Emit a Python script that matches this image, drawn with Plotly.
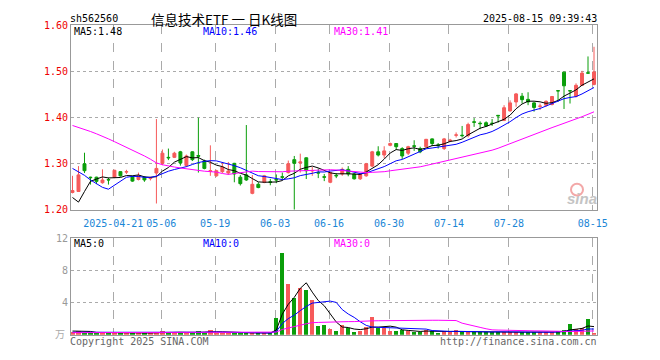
import plotly.graph_objects as go
import pandas as pd

# ---------------- data ----------------
holidays = ["2025-05-01", "2025-05-02", "2025-05-05", "2025-06-02"]
dates = [d.strftime("%Y-%m-%d") for d in pd.bdate_range("2025-04-10", "2025-08-15")
         if d.strftime("%Y-%m-%d") not in holidays]

opens = [1.238, 1.240, 1.300, 1.271, 1.271, 1.259, 1.266, 1.271, 1.283, 1.282,
         1.272, 1.266, 1.271, 1.268, 1.280, 1.301, 1.314, 1.314, 1.326, 1.2965,
         1.326, 1.318, 1.306, 1.284, 1.274, 1.283, 1.280, 1.301, 1.271, 1.276,
         1.236, 1.2556, 1.260, 1.261, 1.266, 1.272, 1.281, 1.309, 1.302, 1.313,
         1.2845, 1.281, 1.272, 1.260, 1.275, 1.278, 1.288, 1.278, 1.2675, 1.274,
         1.295, 1.326, 1.319, 1.340, 1.344, 1.333, 1.323, 1.339, 1.333, 1.337,
         1.354, 1.341, 1.333, 1.350, 1.362, 1.362, 1.361, 1.391, 1.388, 1.389,
         1.388, 1.405, 1.394, 1.4146, 1.434, 1.4465, 1.4396, 1.432, 1.4245, 1.427,
         1.4285, 1.4585, 1.4986, 1.4585, 1.4465, 1.470, 1.497, 1.472]
highs = [1.274, 1.295, 1.324, 1.272, 1.272, 1.288, 1.270, 1.287, 1.284, 1.287,
         1.274, 1.281, 1.273, 1.272, 1.397, 1.331, 1.333, 1.326, 1.328, 1.320,
         1.327, 1.400, 1.309, 1.340, 1.287, 1.304, 1.304, 1.302, 1.2757, 1.384,
         1.2757, 1.260, 1.276, 1.2674, 1.277, 1.281, 1.307, 1.317, 1.322, 1.314,
         1.293, 1.290, 1.278, 1.283, 1.280, 1.292, 1.295, 1.280, 1.280, 1.302,
         1.328, 1.338, 1.338, 1.346, 1.345, 1.336, 1.339, 1.351, 1.337, 1.354,
         1.355, 1.345, 1.356, 1.354, 1.368, 1.382, 1.389, 1.399, 1.392, 1.392,
         1.397, 1.405, 1.427, 1.4375, 1.4535, 1.4535, 1.455, 1.434, 1.4306, 1.4375,
         1.447, 1.4585, 1.4993, 1.4585, 1.4743, 1.5014, 1.5326, 1.5535]
lows = [1.236, 1.239, 1.280, 1.255, 1.256, 1.257, 1.255, 1.269, 1.272, 1.278,
        1.261, 1.264, 1.261, 1.264, 1.214, 1.297, 1.308, 1.3125, 1.296, 1.293,
        1.306, 1.281, 1.288, 1.274, 1.272, 1.280, 1.276, 1.260, 1.253, 1.263,
        1.234, 1.247, 1.258, 1.2535, 1.258, 1.265, 1.279, 1.201, 1.281, 1.267,
        1.274, 1.269, 1.2625, 1.258, 1.269, 1.274, 1.273, 1.266, 1.265, 1.272,
        1.293, 1.316, 1.312, 1.338, 1.330, 1.310, 1.319, 1.328, 1.323, 1.335,
        1.338, 1.333, 1.330, 1.347, 1.357, 1.357, 1.357, 1.380, 1.375, 1.380,
        1.382, 1.389, 1.3925, 1.413, 1.4236, 1.4306, 1.427, 1.413, 1.4167, 1.4236,
        1.4264, 1.434, 1.4188, 1.4306, 1.4438, 1.4688, 1.4958, 1.470]
closes = [1.242, 1.276, 1.285, 1.270, 1.262, 1.265, 1.265, 1.286, 1.274, 1.283,
          1.2625, 1.274, 1.265, 1.269, 1.290, 1.323, 1.313, 1.323, 1.302, 1.317,
          1.309, 1.3165, 1.290, 1.285, 1.285, 1.293, 1.2845, 1.278, 1.257, 1.265,
          1.2556, 1.2486, 1.274, 1.260, 1.265, 1.271, 1.300, 1.301, 1.304, 1.285,
          1.2855, 1.280, 1.271, 1.281, 1.274, 1.288, 1.278, 1.2675, 1.2778, 1.300,
          1.326, 1.319, 1.328, 1.344, 1.337, 1.317, 1.337, 1.338, 1.326, 1.353,
          1.344, 1.340, 1.354, 1.351, 1.3625, 1.361, 1.385, 1.390, 1.387, 1.382,
          1.3875, 1.404, 1.4215, 1.432, 1.4514, 1.439, 1.434, 1.422, 1.425, 1.4354,
          1.4458, 1.458, 1.469, 1.458, 1.470, 1.4965, 1.4965, 1.499]
volumes = [0.30, 0.50, 0.22, 0.18, 0.20, 0.25, 0.18, 0.30, 0.22, 0.20,
           0.25, 0.22, 0.20, 0.18, 0.35, 0.40, 0.25, 0.22, 0.30, 0.28,
           0.25, 0.40, 0.32, 0.60, 0.22, 0.25, 0.20, 0.22, 0.20, 0.25,
           0.22, 0.20, 0.18, 0.20, 2.08, 10.1, 6.3, 4.5, 5.8, 5.5,
           4.3, 1.1, 1.24, 0.72, 0.48, 1.2, 0.8, 0.28, 0.4, 1.0,
           2.2, 0.8, 0.8, 0.48, 0.4, 0.56, 0.4, 0.32, 0.32, 0.64,
           0.4, 0.16, 0.48, 0.32, 0.56, 0.32, 0.35, 0.30, 0.30, 0.30,
           0.30, 0.30, 0.32, 0.32, 0.32, 0.30, 0.30, 0.30, 0.30, 0.30,
           0.30, 0.48, 0.60, 1.28, 0.72, 0.80, 2.00, 0.20]

# moving-average values before a full window is available
ma5_early = [1.227, 1.217, 1.240, 1.262]
ma10_early = [1.290, 1.283, 1.275, 1.265, 1.257, 1.249, 1.245, 1.253, 1.262]
ma30_early = [1.383, 1.379, 1.375, 1.370, 1.365, 1.360, 1.354, 1.348, 1.342, 1.336,
              1.330, 1.324, 1.317, 1.310, 1.302, 1.298, 1.295, 1.293, 1.291, 1.289,
              1.287, 1.286, 1.284, 1.283, 1.282, 1.279, 1.277, 1.279, 1.281]
vma5_early = [0.45, 0.45, 0.42, 0.40]
vma10_early = [0.30] * 9
vma30_early = [0.25] * 29

tick_labels = ["2025-04-21", "05-06", "05-19", "06-03", "06-16", "06-30", "07-14", "07-28", "08-15"]
tick_dates = ["2025-04-21", "2025-05-06", "2025-05-19", "2025-06-03", "2025-06-16",
              "2025-06-30", "2025-07-14", "2025-07-28", "2025-08-15"]


def moving_avg(vals, n, early):
    out = []
    for i in range(len(vals)):
        if i >= n - 1:
            out.append(sum(vals[i - n + 1:i + 1]) / n)
        else:
            out.append(early[i])
    return out


idx = list(range(len(dates)))
ma5 = moving_avg(closes, 5, ma5_early)
ma10 = moving_avg(closes, 10, ma10_early)
ma30 = moving_avg(closes, 30, ma30_early)
vma5 = moving_avg(volumes, 5, vma5_early)
vma10 = moving_avg(volumes, 10, vma10_early)
vma30 = moving_avg(volumes, 30, vma30_early)

RED = "#f65a5a"
GREEN = "#0a9e0a"
BLUE_TXT = "#1a86d6"
vol_colors = [RED if c >= o else GREEN for o, c in zip(opens, closes)]
tickvals = [dates.index(d) - 0.2 for d in tick_dates]

W, H = 660, 360
ML, MR = 71, 63
PW = W - ML - MR


def px(x):
    return (x - ML) / PW


def py(y):
    return 1 - y / H


MONO = "DejaVu Sans Mono"

fig = go.Figure()
fig.add_trace(go.Candlestick(
    x=idx, open=opens, high=highs, low=lows, close=closes,
    increasing=dict(line=dict(color=RED, width=1), fillcolor=RED),
    decreasing=dict(line=dict(color=GREEN, width=1), fillcolor=GREEN),
    whiskerwidth=0, xaxis="x", yaxis="y", hoverinfo="skip"))
for ys, col in [(ma5, "#000000"), (ma10, "#0000ff"), (ma30, "#ff00ff")]:
    fig.add_trace(go.Scatter(x=idx, y=ys, mode="lines", line=dict(color=col, width=1),
                             xaxis="x", yaxis="y", hoverinfo="skip"))

fig.add_trace(go.Bar(x=idx, y=volumes, marker=dict(color=vol_colors, line=dict(width=0)),
                     width=0.72, xaxis="x2", yaxis="y2", hoverinfo="skip"))
for ys, col in [(vma5, "#000000"), (vma10, "#0000ff"), (vma30, "#ff00ff")]:
    fig.add_trace(go.Scatter(x=idx, y=ys, mode="lines", line=dict(color=col, width=1),
                             xaxis="x2", yaxis="y2", hoverinfo="skip"))

xrange = [-0.25, 87.5]
common_x = dict(range=xrange, showgrid=True, gridcolor="#aaaaaa", griddash="dash", gridwidth=1,
                showline=True, mirror=True, linecolor="#999999", linewidth=1,
                zeroline=False, tickvals=tickvals, ticks="", fixedrange=True)
common_y = dict(showgrid=True, gridcolor="#aaaaaa", griddash="dot", gridwidth=1,
                showline=True, mirror=True, linecolor="#999999", linewidth=1,
                zeroline=False, ticks="", fixedrange=True)

fig.update_layout(
    width=W, height=H, margin=dict(l=ML, r=MR, t=0, b=0),
    paper_bgcolor="white", plot_bgcolor="white", showlegend=False,
    bargap=0,
    xaxis=dict(**common_x, anchor="y", ticktext=tick_labels, ticklabelstandoff=4,
               tickfont=dict(family=MONO, size=10, color=BLUE_TXT),
               rangeslider=dict(visible=False)),
    yaxis=dict(**common_y, domain=[py(211), py(20)], range=[1.20, 1.60],
               tickvals=[1.2, 1.3, 1.4, 1.5, 1.6],
               ticktext=["1.20", "1.30", "1.40", "1.50", "1.60"],
               tickfont=dict(family=MONO, size=10, color="#ee0000")),
    xaxis2=dict(**common_x, anchor="y2", matches="x", showticklabels=False),
    yaxis2=dict(**common_y, domain=[py(340), py(240)], range=[0, 12],
                tickvals=[4, 8, 12], ticktext=["4", "8", "12"],
                tickfont=dict(family=MONO, size=10, color="#999999")),
)

ann = []


def text(x, y, s, color="#000", size=10, anchor="left", family=MONO):
    ann.append(dict(x=px(x), y=py(y), xref="paper", yref="paper", text=s, showarrow=False,
                    xanchor=anchor, yanchor="middle", borderpad=0,
                    font=dict(family=family, size=size, color=color)))


text(69, 13, "sh562560")
text(224, 13, "信息技术ETF 一 日K线图", size=13.5, anchor="center", family="Noto Sans CJK SC")
text(598, 13, "2025-08-15 09:39:43", anchor="right")
text(73, 26, "MA5:1.48")
text(202, 26, "MA10:1.46", color="#0000ff")
text(333, 26, "MA30:1.41", color="#ff00ff")
text(73, 246, "MA5:0")
text(202, 246, "MA10:0", color="#0000ff")
text(333, 246, "MA30:0", color="#ff00ff")
text(66, 339, "万", color="#aaaaaa", size=10, anchor="right", family="Noto Sans CJK SC")
text(69, 347, "Copyright 2025 SINA.COM", color="#666666")
text(598, 347, "http://finance.sina.com.cn", color="#666666", anchor="right")
text(598, 199, "<b><i>sina</i></b>", color="#c4c4c4", size=15, anchor="right", family="Liberation Sans")
fig.update_layout(annotations=ann)
fig.add_shape(type="circle", xref="paper", yref="paper", x0=px(571), x1=px(583), y0=py(196), y1=py(184),
              line=dict(color="#f3a8a8", width=2), layer="above")

fig.write_html("out.html")
